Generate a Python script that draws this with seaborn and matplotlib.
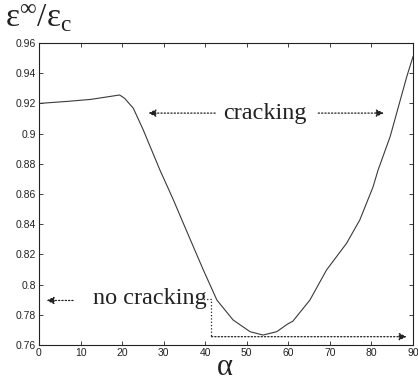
import numpy as np
import pandas as pd
import seaborn as sns
import matplotlib.pyplot as plt

# curve: alpha (deg) vs eps_inf / eps_c
alpha = [0, 7, 12.5, 19.4, 20.6, 22.7, 25.1, 29.1, 32.2, 33.9, 36.3, 39.5,
         42.8, 46.7, 50.8, 53.9, 57.2, 59.9, 61.1, 65.2, 69.2, 74.0, 77.2,
         80.4, 81.6, 84.5, 88.5, 90]
ratio = [0.920, 0.9214, 0.9227, 0.9256, 0.9234, 0.9168, 0.9024, 0.8759,
         0.857, 0.846, 0.8305, 0.8100, 0.7898, 0.7766, 0.7688, 0.7666, 0.7688,
         0.7740, 0.7758, 0.7898, 0.8097, 0.8273, 0.8428, 0.8648, 0.8759,
         0.898, 0.9377, 0.951]

xticks = list(range(0, 91, 10))
yticks = [0.76, 0.78, 0.80, 0.82, 0.84, 0.86, 0.88, 0.90, 0.92, 0.94, 0.96]
ytick_labels = ['0.76', '0.78', '0.8', '0.82', '0.84', '0.86', '0.88',
                '0.9', '0.92', '0.94', '0.96']

sns.set_theme(style='white')
plt.rcParams['font.family'] = ['Liberation Sans', 'DejaVu Sans']
plt.rcParams['xtick.direction'] = 'in'
plt.rcParams['ytick.direction'] = 'in'

df = pd.DataFrame({'alpha': alpha, 'ratio': ratio})

fig = plt.figure(figsize=(4.18, 3.81), dpi=100)
ax = fig.add_axes([0.0933, 0.0945, 0.8947, 0.7925])

sns.lineplot(data=df, x='alpha', y='ratio', ax=ax, color='#3a3a3a',
             linewidth=0.8, sort=False)

ax.set_xlim(0, 90)
ax.set_ylim(0.76, 0.96)
ax.set_xticks(xticks)
ax.set_xticklabels([str(t) for t in xticks])
ax.set_yticks(yticks)
ax.set_yticklabels(ytick_labels)
ax.tick_params(axis='both', labelsize=7.5, length=3, width=0.6,
               colors='#222222', top=True, right=True, bottom=True, left=True,
               pad=2)
ax.tick_params(labeltop=False, labelright=False)
for s in ax.spines.values():
    s.set_color('#222222')
    s.set_linewidth(0.8)
ax.set_xlabel('')
ax.set_ylabel('')

serif = ['Liberation Serif', 'DejaVu Serif']
arrow = dict(arrowstyle='-|>', linestyle=':', color='#222222', lw=0.9,
             mutation_scale=11, shrinkA=0, shrinkB=0)

# "cracking" label with double arrows
ax.text(54.4, 0.9136, 'cracking', family=serif, fontsize=17.5,
        ha='center', va='center', color='#222222')
ax.annotate('', xy=(26.3, 0.9136), xytext=(42.4, 0.9136), arrowprops=arrow)
ax.annotate('', xy=(83.0, 0.9136), xytext=(67.2, 0.9136), arrowprops=arrow)

# "no cracking" label
ax.text(26.8, 0.7905, 'no cracking', family=serif, fontsize=17.5,
        ha='center', va='center', color='#222222')
ax.annotate('', xy=(1.8, 0.7895), xytext=(8.2, 0.7895), arrowprops=arrow)
ax.plot([38.8, 41.5, 41.5], [0.7905, 0.7905, 0.7655], ls=':', lw=0.9,
        color='#222222')
ax.annotate('', xy=(88.5, 0.7655), xytext=(41.5, 0.7655), arrowprops=arrow)

fig.text(0.012, 0.950, r'$\mathregular{\varepsilon^{\infty}/\varepsilon_c}$',
         family=serif, fontsize=24, ha='left', va='center', color='#222222')
fig.text(0.538, 0.035, 'α', family=serif, fontsize=22, ha='center',
         va='center', color='#222222')

fig.savefig('out.png', dpi=100)
